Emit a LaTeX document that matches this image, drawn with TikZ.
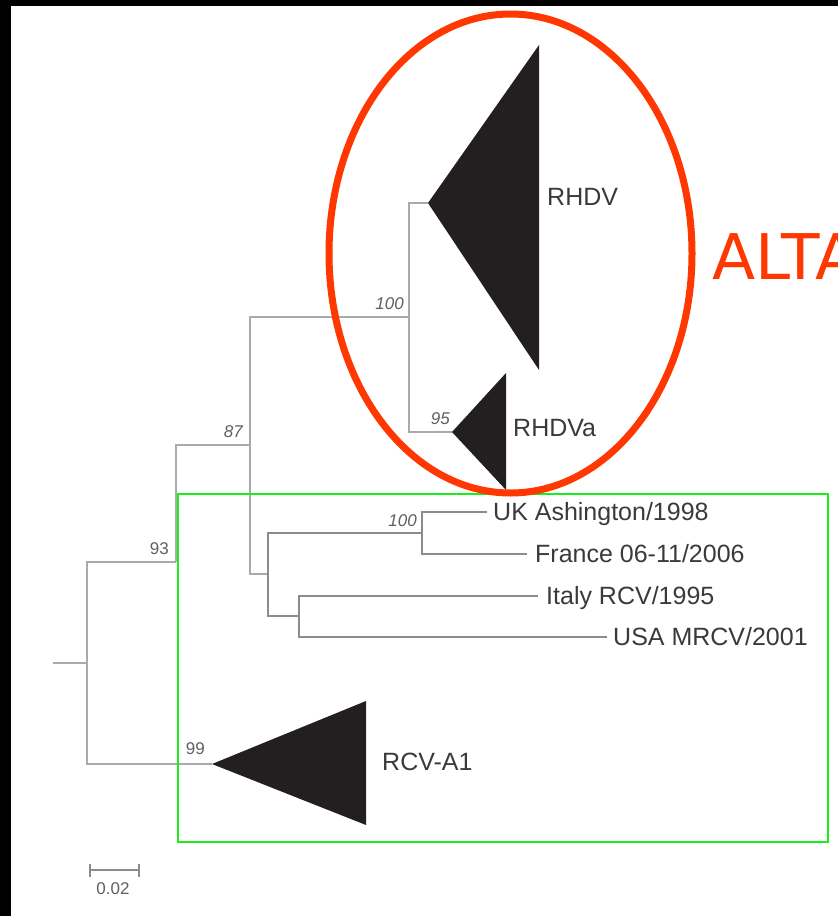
\documentclass[tikz,border=0pt]{standalone}
\usepackage{fontspec}
\setmainfont{Liberation Sans}
\newfontfamily\altafont{DejaVu Sans}
\usetikzlibrary{positioning}

\definecolor{branchgray}{RGB}{170,170,170}
\definecolor{branchdark}{RGB}{140,140,140}
\definecolor{cladeblack}{RGB}{35,31,32}
\definecolor{labelgray}{RGB}{58,58,58}
\definecolor{bootgray}{RGB}{95,95,95}
\definecolor{markred}{RGB}{255,55,0}
\definecolor{boxgreen}{RGB}{25,240,25}

\tikzset{
  branch/.style={draw=branchgray, line width=2.6pt},
  darkbranch/.style={branch, draw=branchdark},
  clade/.style={fill=cladeblack},
  taxon/.style={font=\fontsize{25}{25}\selectfont, text=labelgray, inner sep=0pt,
    text height=17.9pt, text depth=0pt, anchor=west},
  boot/.style={font=\itshape\fontsize{17}{17}\selectfont, text=bootgray, inner sep=0pt,
    text depth=0pt, anchor=south east},
  bootup/.style={boot, font=\fontsize{17}{17}\selectfont},
}

\begin{document}
\begin{tikzpicture}[x=1pt, y=-1pt]
    \useasboundingbox (0,0) rectangle (838,916);

    % Frame
    \fill[black] (0,0) rectangle (838,6);
    \fill[black] (0,0) rectangle (11,916);

    % Tree nodes
    \coordinate (root) at (53,663);
    \coordinate (n0) at (87,663);
    \coordinate (n93) at (176,562);
    \coordinate (n87) at (250,445);
    \coordinate (n100) at (409,317);
    \coordinate (rhdv) at (428,203);
    \coordinate (rhdva) at (452,432);
    \coordinate (nrcv) at (268,574);
    \coordinate (nfr) at (422,533);
    \coordinate (nit) at (299,616);
    \coordinate (rcva) at (212,764);

    % Leaves
    \coordinate (uk) at (487,512);
    \coordinate (fr) at (527,554);
    \coordinate (it) at (538,596);
    \coordinate (usa) at (607,637);

    % Branches
    \draw[branch] (root) -- (n0);
    \draw[branch] (n0) |- (n93);
    \draw[branch] (n0) |- (rcva);
    \draw[branch] (n93) |- (n87);
    \draw[branch] (n87) |- (n100);
    \draw[branch] (n87) |- (nrcv);
    \draw[branch] (n100) |- (rhdv);
    \draw[branch] (n100) |- (rhdva);
    \draw[darkbranch] (nrcv) |- (nfr);
    \draw[darkbranch] (nrcv) |- (nit);
    \draw[darkbranch] (nfr) |- (uk);
    \draw[darkbranch] (nfr) |- (fr);
    \draw[darkbranch] (nit) |- (it);
    \draw[darkbranch] (nit) |- (usa);

    % Collapsed clades
    \fill[clade] (rhdv) -- (539,45) -- (539,370) -- cycle;
    \fill[clade] (rhdva) -- (506,373) -- (506,490) -- cycle;
    \fill[clade] (rcva) -- (366,701) -- (366,825) -- cycle;

    % Taxa
    \node[taxon] (lrhdv) at (547,197) {RHDV};
    \node[taxon] (lrhdva) at (513,428) {RHDVa};
    \node[taxon] (lrcva) at (382,762) {RCV-A1};
    \node[taxon, right=6pt of uk] (luk) {UK Ashington/1998};
    \node[taxon, right=8pt of fr] (lfr) {France 06-11/2006};
    \node[taxon, right=8pt of it] (lit) {Italy RCV/1995};
    \node[taxon, right=6pt of usa] (lusa) {USA MRCV/2001};

    % Bootstrap values
    \node[bootup, above left=7pt and 7pt of n93] (b93) {93};
    \node[boot, above left=7pt and 7pt of n87] (b87) {87};
    \node[boot, above left=7pt and 5pt of n100] (b100) {100};
    \node[boot, above left=7pt and 2pt of rhdva] (b95) {95};
    \node[boot, above left=6pt and 5pt of nfr] (b100b) {100};
    \node[bootup, above left=9pt and 7pt of rcva] (b99) {99};

    % Scale bar
    \coordinate (sb1) at (90,870);
    \coordinate (sb2) at (139,870);
    \draw[darkbranch, line width=1.6pt] (sb1) -- (sb2);
    \draw[darkbranch, line width=1.6pt] ([yshift=6pt]sb1) -- ([yshift=-7pt]sb1);
    \draw[darkbranch, line width=1.6pt] ([yshift=6pt]sb2) -- ([yshift=-7pt]sb2);
    \node[bootup, anchor=center] (sblabel) at (113,889) {0.02};

    % Marks
    \draw[boxgreen, line width=1.8pt] (178,494) rectangle (828,842);
    \draw[markred, line width=7pt] (510.5,253.5) ellipse [x radius=181.5, y radius=239.5];
    \begin{scope}
        \clip (0,0) rectangle (838,916);
        \node[anchor=base west, inner sep=0pt, text=markred, font=\altafont\fontsize{63}{63}\selectfont] (alta) at (712,279) {ALTA};
    \end{scope}
\end{tikzpicture}
\end{document}
